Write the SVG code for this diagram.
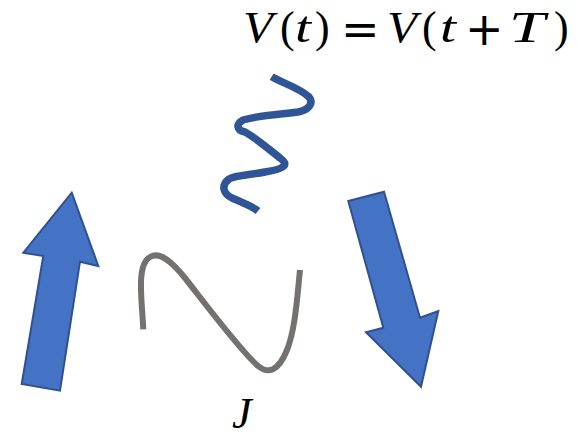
<svg xmlns="http://www.w3.org/2000/svg" width="579" height="439" viewBox="0 0 579 439">
<style>
.arrow{fill:#4472C4;stroke:#2F528F;stroke-width:2;stroke-linejoin:miter}
.math{font-family:"Liberation Serif","DejaVu Serif",serif;font-size:44px;fill:#000}
.it{font-style:italic}
.op{font-family:"DejaVu Sans","Liberation Sans",sans-serif;font-size:46px}
</style>
<rect width="579" height="439" fill="#fff"/>
<g id="formula" class="math">
<text x="243" y="42" class="it" textLength="30" lengthAdjust="spacingAndGlyphs">V</text>
<text x="280" y="42">(</text>
<text x="295" y="42" class="it" textLength="16" lengthAdjust="spacingAndGlyphs">t</text>
<text x="315" y="42">)</text>
<text x="341" y="45" class="op">=</text>
<text x="387" y="42" class="it" textLength="30" lengthAdjust="spacingAndGlyphs">V</text>
<text x="422" y="42">(</text>
<text x="440" y="42" class="it" textLength="16" lengthAdjust="spacingAndGlyphs">t</text>
<text x="465" y="45" class="op">+</text>
<text x="509" y="42" class="it" textLength="36" lengthAdjust="spacingAndGlyphs">T</text>
<text x="554" y="42">)</text>
</g>
<g id="squiggle">
<path d="M271.7,76.7 C280,82 300,88 309,97 C314,103 309,110 298,112 C285,114 260,115 243,120 C236,124 236,130 245,132 C256,138 270,150 280,158 C290,165 284,169 265,172 C250,175 235,175 229,179 C220,186 224,194 232,198 C243,203 252,206 258,211" fill="none" stroke="#2F5597" stroke-width="7.5" stroke-linecap="butt" stroke-linejoin="round"/>
</g>
<g id="arrow-up">
<polygon class="arrow" points="71.7,192.7 98.3,266 80,261.7 60,390.7 21.7,384 43.3,256 23.3,252.7"/>
</g>
<g id="arrow-down">
<polygon class="arrow" points="348.3,201 384,191.7 420,317.7 438.3,311 421,386.7 366,332.3 383.3,327.7"/>
</g>
<g id="current-curve">
<path d="M143.3,329.3 C142,300 136,265 150,257 C160,251 172,262 185,278 C210,310 240,350 258,366 C268,374 278,372 287,350 C295,330 297,300 300,270" fill="none" stroke="#767171" stroke-width="6"/>
</g>
<g id="label-J">
<text class="math it" x="232" y="428" font-size="54">J</text>
</g>
</svg>
